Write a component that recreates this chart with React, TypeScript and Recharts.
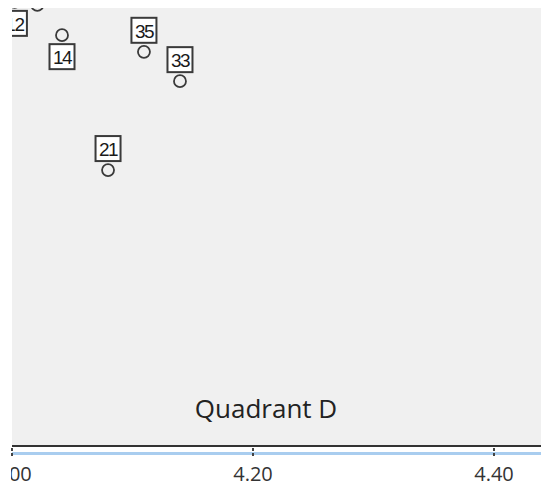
import React from 'react';
import {
  ScatterChart,
  Scatter,
  XAxis,
  YAxis,
  CartesianGrid,
} from 'recharts';

// case numbers shown in the boxes
const caseIds = ['12', '7', '14', '35', '33', '21'];
// x: mean score, y: second score (top two points sit just above the visible area)
const xValues = [4.002, 4.021, 4.0415, 4.1095, 4.1394, 4.0797];
const yValues = [4.514, 4.507, 4.438, 4.4, 4.333, 4.13];
// where the case label sits relative to the marker
const labelSides = ['below', 'above', 'below', 'above', 'above', 'above'];

const xTicks = [4.0, 4.2, 4.4];

const points = caseIds.map((id, i) => ({
  id,
  x: xValues[i],
  y: yValues[i],
  side: labelSides[i],
}));

const CaseMarker = (props: any) => {
  const { cx, cy, payload } = props;
  if (cx == null || cy == null) return null;
  const boxCy = payload.side === 'below' ? cy + 21.5 : cy - 21.5;
  return (
    <g>
      <circle cx={cx} cy={cy} r={6} fill="none" stroke="#3a3a3a" strokeWidth={1.8} />
      <rect
        x={cx - 12.5}
        y={boxCy - 12.5}
        width={25}
        height={25}
        fill="#fff"
        stroke="#3a3a3a"
        strokeWidth={2}
      />
      <text
        x={cx}
        y={boxCy + 1}
        textAnchor="middle"
        dominantBaseline="central"
        fontFamily="Liberation Sans, Arial, sans-serif"
        fontSize={19}
        letterSpacing={-1.5}
        fill="#1a1a1a"
      >
        {payload.id}
      </text>
    </g>
  );
};

const XTick = (props: any) => {
  const { x, y, payload } = props;
  return (
    <text
      x={x}
      y={y + 15}
      textAnchor="middle"
      dominantBaseline="central"
      fontFamily="Open Sans, sans-serif"
      fontSize={20}
      fill="#333"
    >
      {payload.value.toFixed(2)}
    </text>
  );
};

export default function App() {
  return (
    <div
      style={{
        position: 'absolute',
        left: 0,
        top: 0,
        width: 541,
        height: 484,
        overflow: 'hidden',
        background: '#fff',
      }}
    >
      {/* the picture is cropped: nothing left of x=11 */}
      <div
        style={{
          position: 'absolute',
          left: 11,
          top: 0,
          width: 530,
          height: 484,
          overflow: 'hidden',
        }}
      >
        {/* light blue frame line under the x axis */}
        <div
          style={{
            position: 'absolute',
            left: 1,
            top: 452,
            width: 529,
            height: 3,
            background: '#a9cdef',
          }}
        />
        <div style={{ position: 'absolute', left: -41, top: 0 }}>
          <ScatterChart
            width={571}
            height={484}
            margin={{ top: 8, right: 0, bottom: 8, left: 42 }}
          >
            <CartesianGrid fill="#f0f0f0" horizontal={false} vertical={false} />
            <XAxis
              type="number"
              dataKey="x"
              domain={[4.0, 4.439]}
              ticks={xTicks}
              allowDataOverflow
              height={30}
              axisLine={{ stroke: '#333', strokeWidth: 2 }}
              tickLine={{ stroke: '#444', strokeWidth: 2, strokeDasharray: '3 2' }}
              tickSize={10}
              tick={<XTick />}
            />
            <YAxis
              type="number"
              dataKey="y"
              domain={[3.5, 4.5]}
              allowDataOverflow
              width={0}
              tick={false}
              tickLine={false}
              axisLine={{ stroke: '#333', strokeWidth: 2 }}
            />
            <Scatter data={points} shape={<CaseMarker />} isAnimationActive={false} />
          </ScatterChart>
        </div>
      </div>
      {/* cropped top strip */}
      <div
        style={{
          position: 'absolute',
          left: 0,
          top: 0,
          width: 541,
          height: 8,
          background: '#fff',
        }}
      />
      <div
        style={{
          position: 'absolute',
          left: 166,
          top: 391,
          width: 200,
          textAlign: 'center',
          fontFamily: 'Open Sans, sans-serif',
          fontSize: 26,
          lineHeight: '34px',
          color: '#222',
        }}
      >
        Quadrant D
      </div>
    </div>
  );
}
